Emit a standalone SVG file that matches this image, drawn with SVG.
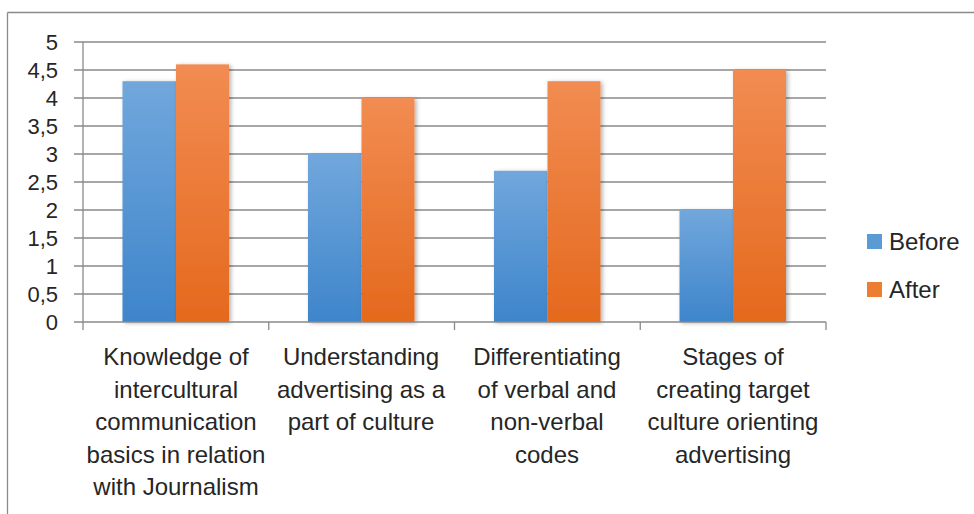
<svg xmlns="http://www.w3.org/2000/svg" width="974" height="514" viewBox="0 0 974 514">
<style>
.txt{font-family:"Liberation Sans",Arial,sans-serif;fill:#262626}
.ylab{font-size:22px;text-anchor:end}
.cat{font-size:24px;text-anchor:middle}
.leg{font-size:24px}
.grid{stroke:#8a8a8a;stroke-width:1.3}
.axis{stroke:#8a8a8a;stroke-width:1.3}
.before{fill:url(#gBefore);filter:url(#sh)}
.after{fill:url(#gAfter);filter:url(#sh)}
</style>
<defs>
<linearGradient id="gBefore" x1="0" y1="0" x2="0" y2="1">
<stop offset="0" stop-color="#71a7dc"/>
<stop offset="1" stop-color="#3e85cb"/>
</linearGradient>
<linearGradient id="gAfter" x1="0" y1="0" x2="0" y2="1">
<stop offset="0" stop-color="#f28c52"/>
<stop offset="1" stop-color="#e4691d"/>
</linearGradient>
<filter id="sh" x="-20%" y="-5%" width="140%" height="110%">
<feDropShadow dx="2" dy="1" stdDeviation="2" flood-color="#000" flood-opacity="0.3"/>
</filter>
</defs>
<rect width="974" height="514" fill="#fff"/>
<g id="frame">
<line x1="7.5" y1="12.5" x2="974" y2="12.5" stroke="#8a8a8a" stroke-width="1.3"/>
<line x1="7.5" y1="12.5" x2="7.5" y2="514" stroke="#8a8a8a" stroke-width="1.3"/>
</g>
<g id="gridlines">
<line class="grid" x1="74" y1="42" x2="826" y2="42"/>
<line class="grid" x1="74" y1="70" x2="826" y2="70"/>
<line class="grid" x1="74" y1="98" x2="826" y2="98"/>
<line class="grid" x1="74" y1="126" x2="826" y2="126"/>
<line class="grid" x1="74" y1="154" x2="826" y2="154"/>
<line class="grid" x1="74" y1="182" x2="826" y2="182"/>
<line class="grid" x1="74" y1="210" x2="826" y2="210"/>
<line class="grid" x1="74" y1="238" x2="826" y2="238"/>
<line class="grid" x1="74" y1="266" x2="826" y2="266"/>
<line class="grid" x1="74" y1="294" x2="826" y2="294"/>
</g>
<g id="bars">
<rect class="before" x="122.5" y="81.2" width="53.5" height="240.8"/>
<rect class="after" x="176" y="64.4" width="53" height="257.6"/>
<rect class="before" x="308" y="154" width="53.5" height="168"/>
<rect class="after" x="361.5" y="98" width="53" height="224"/>
<rect class="before" x="494" y="170.8" width="53.5" height="151.2"/>
<rect class="after" x="547.5" y="81.2" width="53" height="240.8"/>
<rect class="before" x="679.5" y="210" width="53.5" height="112"/>
<rect class="after" x="733" y="70" width="53" height="252"/>
</g>
<g id="axes">
<line class="axis" x1="74" y1="322" x2="826" y2="322"/>
<line class="axis" x1="83" y1="42" x2="83" y2="330"/>
<line class="axis" x1="268.75" y1="322" x2="268.75" y2="330"/>
<line class="axis" x1="454.5" y1="322" x2="454.5" y2="330"/>
<line class="axis" x1="640.25" y1="322" x2="640.25" y2="330"/>
<line class="axis" x1="826" y1="322" x2="826" y2="330"/>
</g>
<g id="y-labels" class="txt ylab">
<text x="58" y="49.5">5</text>
<text x="58" y="77.5">4,5</text>
<text x="58" y="105.5">4</text>
<text x="58" y="133.5">3,5</text>
<text x="58" y="161.5">3</text>
<text x="58" y="189.5">2,5</text>
<text x="58" y="217.5">2</text>
<text x="58" y="245.5">1,5</text>
<text x="58" y="273.5">1</text>
<text x="58" y="301.5">0,5</text>
<text x="58" y="329.5">0</text>
</g>
<g id="cat1" class="txt cat">
<text x="176" y="365">Knowledge of</text>
<text x="176" y="397.5">intercultural</text>
<text x="176" y="430">communication</text>
<text x="176" y="462.5">basics in relation</text>
<text x="176" y="495">with Journalism</text>
</g>
<g id="cat2" class="txt cat">
<text x="361" y="365">Understanding</text>
<text x="361" y="397.5">advertising as a</text>
<text x="361" y="430">part of culture</text>
</g>
<g id="cat3" class="txt cat">
<text x="547" y="365">Differentiating</text>
<text x="547" y="397.5">of verbal and</text>
<text x="547" y="430">non-verbal</text>
<text x="547" y="462.5">codes</text>
</g>
<g id="cat4" class="txt cat">
<text x="733" y="365">Stages of</text>
<text x="733" y="397.5">creating target</text>
<text x="733" y="430">culture orienting</text>
<text x="733" y="462.5">advertising</text>
</g>
<g id="legend">
<rect x="867" y="234" width="15" height="15" fill="#5b9bd5"/>
<text class="txt leg" x="889" y="249.5">Before</text>
<rect x="867" y="282" width="15" height="15" fill="#ed7d31"/>
<text class="txt leg" x="889" y="297.5">After</text>
</g>
</svg>
